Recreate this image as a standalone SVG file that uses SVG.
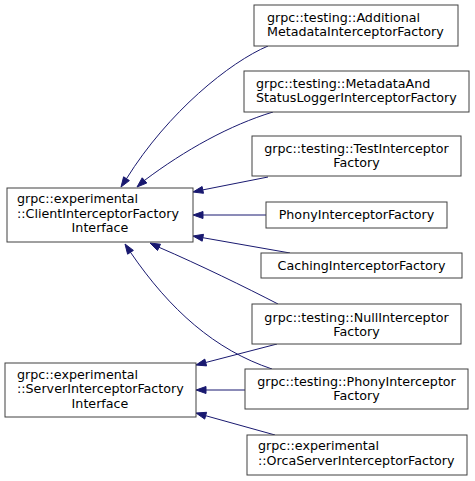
<svg xmlns="http://www.w3.org/2000/svg" width="475" height="481" viewBox="0 0 475 481">
<style>
.box{fill:#ffffff;stroke:#404040;stroke-width:1}
text{font-family:"DejaVu Sans",sans-serif;font-size:12.7px;fill:#000000}
.c{text-anchor:middle}
.e{fill:none;stroke:#191970;stroke-width:1}
.a{fill:#191970;stroke:#191970;stroke-width:1}
</style>
<rect width="475" height="481" fill="#ffffff"/>
<g id="connectors">
<path class="e" d="M268,46 C230,62 168,112 126.5,178.7"/>
<polygon class="a" points="121,187 129.4,180.6 123.6,176.8"/>
<path class="e" d="M273,112 C230,125 185,150 144.5,180.4"/>
<polygon class="a" points="137,187 146.8,183 142.2,177.8"/>
<path class="e" d="M268,177 L202.8,189.9"/>
<polygon class="a" points="193,192 203.5,193.3 202.1,186.5"/>
<path class="e" d="M266,215 L203,215"/>
<polygon class="a" points="193,215 203,218.5 203,211.5"/>
<path class="e" d="M290,253 L202.8,237.7"/>
<polygon class="a" points="193,236 202.2,241.2 203.5,234.3"/>
<path class="e" d="M278,304 C245,287 200,265 159,247.3"/>
<polygon class="a" points="150,243 157.5,250.5 160.5,244.2"/>
<path class="e" d="M272,369 C215,350 170,310 130.5,252.3"/>
<polygon class="a" points="125,244 127.6,254.2 133.4,250.4"/>
<path class="e" d="M277,344 L205.7,362.5"/>
<polygon class="a" points="196,365 206.6,365.9 204.8,359.1"/>
<path class="e" d="M245,390 L206,390"/>
<polygon class="a" points="196,390 206,393.5 206,386.5"/>
<path class="e" d="M275,435 L205.6,415.7"/>
<polygon class="a" points="196,413 204.7,419.1 206.6,412.3"/>
</g>
<g id="client">
<rect class="box" x="7" y="188" width="186" height="54"/>
<text x="17" y="203">grpc::experimental</text>
<text x="17" y="217.5">::ClientInterceptorFactory</text>
<text class="c" x="100" y="232">Interface</text>
</g>
<g id="server">
<rect class="box" x="5" y="363" width="191" height="54"/>
<text x="17" y="378.5">grpc::experimental</text>
<text x="17" y="393">::ServerInterceptorFactory</text>
<text class="c" x="100" y="407.5">Interface</text>
</g>
<g id="additional">
<rect class="box" x="254" y="5" width="204" height="41"/>
<text x="267" y="22">grpc::testing::Additional</text>
<text x="267" y="36">MetadataInterceptorFactory</text>
</g>
<g id="metadataand">
<rect class="box" x="244" y="71" width="225" height="41"/>
<text x="256" y="88">grpc::testing::MetadataAnd</text>
<text x="256" y="102">StatusLoggerInterceptorFactory</text>
</g>
<g id="testinterceptor">
<rect class="box" x="252" y="136" width="209" height="40"/>
<text class="c" x="356.5" y="153">grpc::testing::TestInterceptor</text>
<text class="c" x="356.5" y="167">Factory</text>
</g>
<g id="phony">
<rect class="box" x="266" y="202" width="181" height="26"/>
<text class="c" x="356.5" y="219">PhonyInterceptorFactory</text>
</g>
<g id="caching">
<rect class="box" x="261" y="253" width="201" height="25"/>
<text class="c" x="361.5" y="270">CachingInterceptorFactory</text>
</g>
<g id="nullinterceptor">
<rect class="box" x="252" y="304" width="209" height="40"/>
<text class="c" x="356.5" y="321.5">grpc::testing::NullInterceptor</text>
<text class="c" x="356.5" y="335.5">Factory</text>
</g>
<g id="testingphony">
<rect class="box" x="245" y="369" width="223" height="40"/>
<text class="c" x="356.5" y="386">grpc::testing::PhonyInterceptor</text>
<text class="c" x="356.5" y="400">Factory</text>
</g>
<g id="orca">
<rect class="box" x="247" y="435" width="220" height="40"/>
<text x="258" y="450">grpc::experimental</text>
<text x="258" y="464.5">::OrcaServerInterceptorFactory</text>
</g>
</svg>
